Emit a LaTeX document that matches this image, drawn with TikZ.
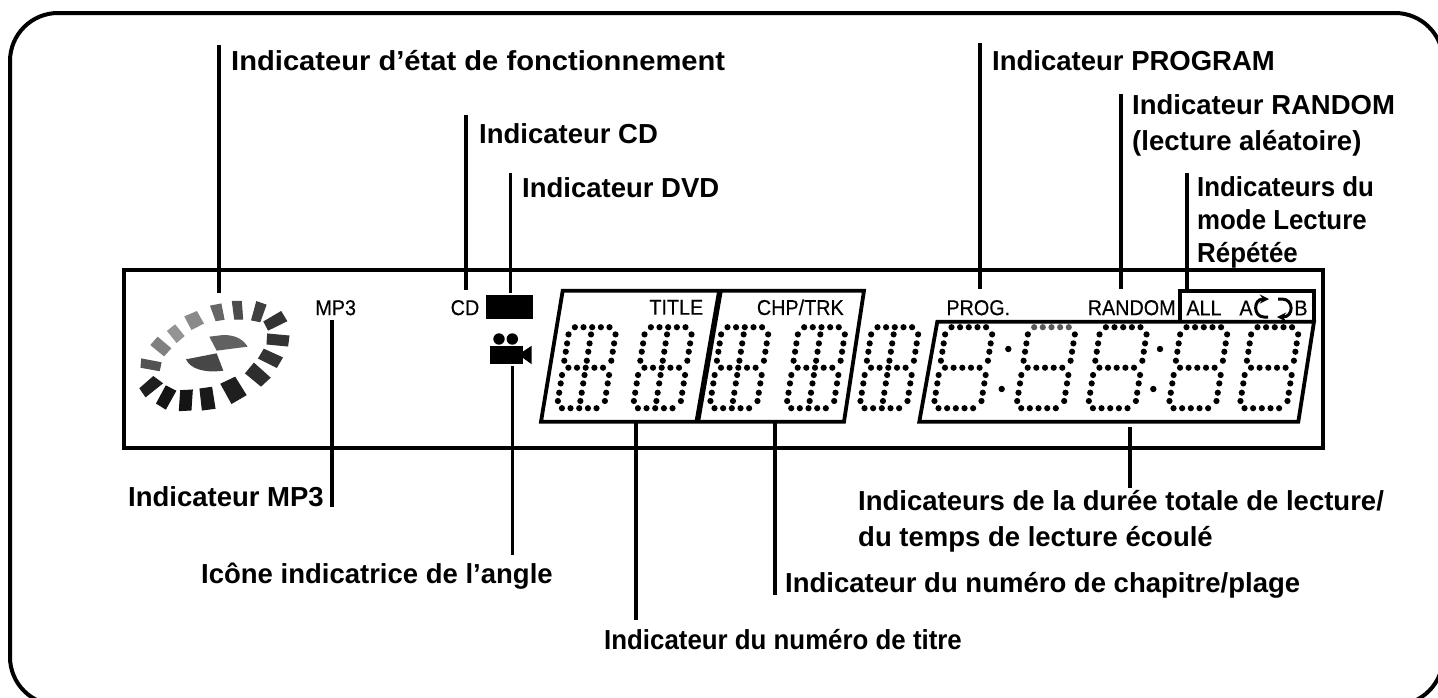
\documentclass[tikz,border=0pt]{standalone}
\usepackage{fontspec}
\setmainfont{Liberation Sans}
\newfontfamily\widefont[FakeStretch=1.06]{Liberation Sans}
\newfontfamily\slimfont[FakeStretch=0.94]{Liberation Sans}
\newfontfamily\lcdfont[FakeBold=0.35,FakeStretch=0.92]{Liberation Sans}
\tikzset{
  lbl/.style={anchor=base west,inner sep=0pt,align=left,font=\bfseries\fontsize{27.5}{36}\selectfont},
  lblwide/.style={lbl,font=\widefont\bfseries\fontsize{27.5}{36}\selectfont},
  lblslim/.style={lbl,font=\slimfont\bfseries\fontsize{27.5}{36}\selectfont},
  lcdtxt/.style={inner sep=0pt,font=\lcdfont\fontsize{21.5}{22}\selectfont},
  lead/.style={line width=3.5pt},
  panel/.style={line width=3.8pt,line join=miter},
}
\newcommand{\lcddot}[5]{\fill[#5] ({#1+#3-0.16*#4},{#2+#4}) circle (3.1);}
% one segment block, without the centre column
\newcommand{\lcddigit}[3]{
  \foreach \dx in {-17.3,-8.7,0,8.7,17.3} {
    \lcddot{#1}{#2}{\dx}{-40.5}{#3}
    \lcddot{#1}{#2}{\dx}{0}{black}
    \lcddot{#1}{#2}{\dx}{40.5}{black}
  }
  \foreach \dy in {-33.3,-24.3,-16,-7,7.3,15.7,25,33.3} {
    \lcddot{#1}{#2}{-22.5}{\dy}{black}
    \lcddot{#1}{#2}{24.5}{\dy}{black}
  }
}
\newcommand{\lcdcentre}[2]{
  \foreach \dy in {-33.3,-24.3,-16,-7,7.3,15.7,25,33.3} {
    \lcddot{#1}{#2}{0}{\dy}{black}
  }
}
\begin{document}
\begin{tikzpicture}[x=1pt,y=-1pt]
\useasboundingbox (0,0) rectangle (1438,697);
\clip (0,0) rectangle (1438,697);
\draw[line width=4pt,rounded corners=48pt] (10,13) rectangle (1443,705);
\draw[line width=4pt] (124,270) rectangle (1323,448);

% disc
\begin{scope}[shift={(120,260)},x=0.3333pt,y=-0.3333pt]
\foreach \a/\b/\c/\d/\g in {
  {93,255}/{113,232}/{152,265}/{132,287}/50,
  {143,213}/{165,195}/{192,228}/{170,247}/42,
  {195,170}/{230,155}/{250,190}/{215,208}/46,
  {272,138}/{303,132}/{312,178}/{288,182}/60,
  {337,124}/{364,124}/{368,177}/{344,177}/70,
  {410,125}/{438,135}/{420,185}/{395,180}/75,
  {432,185}/{483,155}/{500,183}/{445,210}/80,
  {443,222}/{507,228}/{503,258}/{441,252}/80,
  {432,268}/{487,293}/{470,322}/{416,295}/80,
  {402,310}/{450,353}/{423,378}/{377,340}/82,
  {345,352}/{378,405}/{335,430}/{303,372}/88,
  {240,387}/{275,382}/{285,445}/{247,450}/90,
  {182,392}/{217,390}/{213,450}/{178,452}/92,
  {138,378}/{167,393}/{137,447}/{110,430}/92,
  {100,350}/{127,370}/{77,410}/{60,385}/88,
  {65,297}/{123,308}/{118,332}/{63,322}/68} {
  \filldraw[black!\g,line width=1pt] (\a) -- (\b) -- (\c) -- (\d) -- cycle;
}
\fill[black!62] (268,230) -- (310,225) .. controls (350,225) and (370,240) .. (383,260) -- (290,272) -- cycle;
\fill[black!72] (198,298) -- (290,280) -- (310,332) .. controls (250,340) and (210,325) .. (198,298) -- cycle;
\end{scope}

% lcd panels
\draw[panel] (562.7,290.7) -- (864,290.7) -- (844,421.7) -- (541,421.7) -- cycle;
\draw[line width=5.5pt] (720,290.7) -- (697.3,421.7);
\draw[panel] (937.3,321.7) -- (1314,321.7) -- (1298.3,421.7) -- (919.3,421.7) -- cycle;
\draw[panel] (1180,321.7) -- (1180,290.7) -- (1314,290.7) -- (1314,321.7);

\lcddigit{585.7}{367.7}{black}
\lcddigit{661.7}{367.7}{black}
\lcddigit{738.3}{367.7}{black}
\lcddigit{815}{367.7}{black}
\lcddigit{888.3}{367.7}{black}
\lcdcentre{585.7}{367.7}
\lcdcentre{661.7}{367.7}
\lcdcentre{738.3}{367.7}
\lcdcentre{815}{367.7}
\lcdcentre{888.3}{367.7}
\lcddigit{962.3}{367.7}{black}
\lcddigit{1045}{367.7}{black!65}
\lcddigit{1116.7}{367.7}{black}
\lcddigit{1197.3}{367.7}{black}
\lcddigit{1268.3}{367.7}{black}
\foreach \x/\y in {1008.3/349,1001.7/389,1160/349,1153.3/389} {
  \fill (\x,\y) circle (3.2);
}

% display texts
\node[lcdtxt] (mp3txt) at (335.7,307.7) {MP3};
\node[lcdtxt] (cdtxt) at (465,307.7) {CD};
\node[lcdtxt] (titletxt) at (676.3,307.3) {TITLE};
\node[lcdtxt] (chptxt) at (800.3,307.3) {CHP/TRK};
\node[lcdtxt] (progtxt) at (978.3,307.7) {PROG.};
\node[lcdtxt] (randtxt) at (1131.7,307.7) {RANDOM};
\node[lcdtxt] (alltxt) at (1204,308) {ALL};
\node[lcdtxt] (atxt) at (1246,308) {A};
\node[lcdtxt] (btxt) at (1301,308) {B};
\draw[line width=3pt,-stealth] (1268,317) -- (1264,317) .. controls (1253,317) and (1253,299) .. (1269,299);
\draw[line width=3pt,-stealth] (1278,299) -- (1282,299) .. controls (1294,299) and (1294,317) .. (1277,317);

% dvd and camera
\fill (486,295) rectangle (533,319.3);
\fill (499,339) circle (5.7);
\fill (512.3,339) circle (5.7);
\fill (490,345.7) rectangle (522.7,364.3);
\fill (522.7,351.7) -- (531.7,345.7) -- (531.7,364.3) -- (522.7,357.7) -- cycle;

% leader ends
\coordinate (stattop) at (219,45);
\coordinate (statend) at (219,293);
\coordinate (cdtop) at (466,115);
\coordinate (cdend) at (466,290);
\coordinate (dvdtop) at (510.5,173);
\coordinate (dvdend) at (510.5,293);
\coordinate (progtop) at (980,43);
\coordinate (progend) at (980,289);
\coordinate (randtop) at (1121,94);
\coordinate (randend) at (1121,289);
\coordinate (reptop) at (1187,173);
\coordinate (repend) at (1187,290);
\coordinate (mp3top) at (332,320);
\coordinate (mp3end) at (332,507);
\coordinate (camtop) at (512.7,366);
\coordinate (camend) at (512.7,555);
\coordinate (numtop) at (636,423);
\coordinate (numend) at (636,620);
\coordinate (chaptop) at (775,423);
\coordinate (chapend) at (775,595);
\coordinate (timetop) at (1130,427);
\coordinate (timeend) at (1130,488);

\draw[lead] (stattop) -- (statend);
\draw[lead] (cdtop) -- (cdend);
\draw[lead] (dvdtop) -- (dvdend);
\draw[lead] (progtop) -- (progend);
\draw[lead] (randtop) -- (randend);
\draw[lead] (reptop) -- (repend);
\draw[lead] (mp3top) -- (mp3end);
\draw[lead] (camtop) -- (camend);
\draw[lead] (numtop) -- (numend);
\draw[lead] (chaptop) -- (chapend);
\draw[lead] (timetop) -- (timeend);

% labels
\node[lblwide] (statlbl) at (231,70) {Indicateur d’état de fonctionnement};
\node[lbl] (cdlbl) at (479,143) {Indicateur CD};
\node[lbl] (dvdlbl) at (522,197) {Indicateur DVD};
\node[lbl] (proglbl) at (992,70) {Indicateur PROGRAM};
\node[lbl] (randlbl) at (1132,150) {Indicateur RANDOM\\(lecture aléatoire)};
\node[lblslim] (replbl) at (1197,262) {Indicateurs du\\[-3pt]mode Lecture\\[-3pt]Répétée};
\node[lbl] (mp3lbl) at (128,506) {Indicateur MP3};
\node[lbl] (camlbl) at (201,583) {Icône indicatrice de l’angle};
\node[lblslim] (numlbl) at (604,649) {Indicateur du numéro de titre};
\node[lbl] (chaplbl) at (785,592) {Indicateur du numéro de chapitre/plage};
\node[lbl] (timelbl) at (858,546) {Indicateurs de la durée totale de lecture/\\du temps de lecture écoulé};
\end{tikzpicture}
\end{document}
